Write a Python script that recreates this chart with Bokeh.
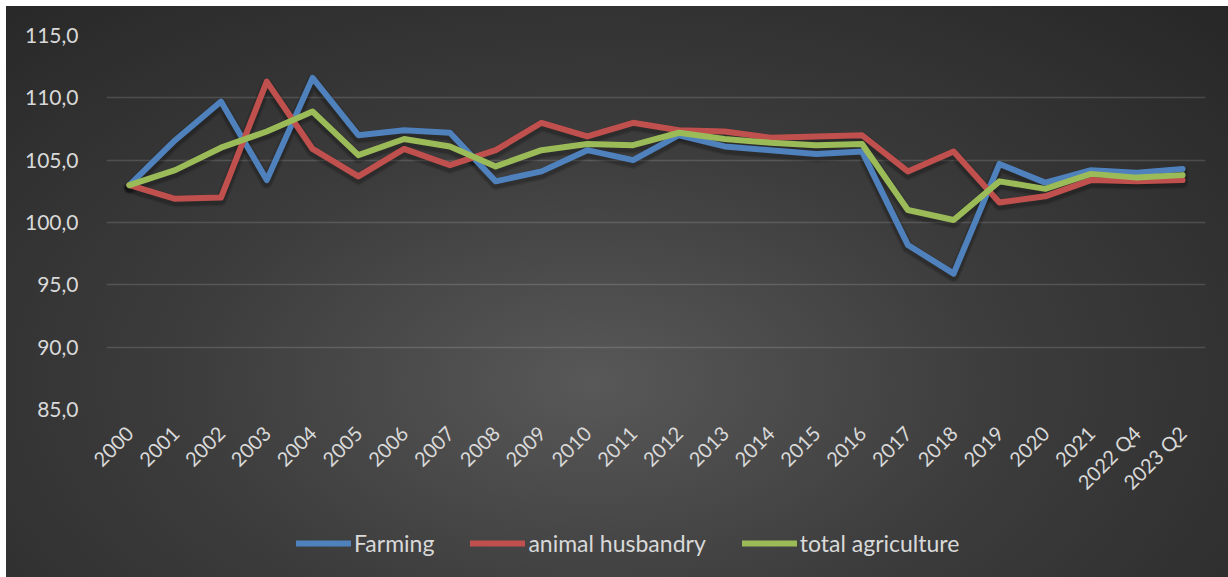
from math import pi

from bokeh.embed import file_html
from bokeh.layouts import column
from bokeh.models import FactorRange, FixedTicker, Legend, LegendItem, Range1d
from bokeh.plotting import figure
from bokeh.resources import INLINE

# Year-on-year production indices (previous year = 100)
periods = ["2000", "2001", "2002", "2003", "2004", "2005", "2006", "2007",
           "2008", "2009", "2010", "2011", "2012", "2013", "2014", "2015",
           "2016", "2017", "2018", "2019", "2020", "2021", "2022 Q4", "2023 Q2"]

farming = [103.0, 106.6, 109.7, 103.4, 111.6, 107.0, 107.4, 107.2,
           103.3, 104.1, 105.8, 105.0, 107.0, 106.1, 105.8, 105.5,
           105.7, 98.2, 95.9, 104.7, 103.2, 104.2, 104.0, 104.3]

animal_husbandry = [103.0, 101.9, 102.0, 111.3, 105.9, 103.7, 105.9, 104.6,
                    105.8, 108.0, 106.9, 108.0, 107.4, 107.3, 106.8, 106.9,
                    107.0, 104.1, 105.7, 101.6, 102.1, 103.4, 103.3, 103.4]

total_agriculture = [103.0, 104.2, 106.0, 107.3, 108.9, 105.4, 106.7, 106.1,
                     104.5, 105.8, 106.3, 106.2, 107.2, 106.7, 106.4, 106.2,
                     106.3, 101.0, 100.2, 103.3, 102.7, 103.9, 103.6, 103.8]

series_names = ["Farming", "animal husbandry", "total agriculture"]
series_values = [farming, animal_husbandry, total_agriculture]
series_colors = ["#4F81BD", "#C0504D", "#9BBB59"]

y_ticks = [85, 90, 95, 100, 105, 110, 115]
y_tick_labels = ["85,0", "90,0", "95,0", "100,0", "105,0", "110,0", "115,0"]

FONT = "Lato"
TEXT_COLOR = "#D9D9D9"
LINE_STYLE = dict(line_width=6, line_join="round", line_cap="round")

# ---- main chart -----------------------------------------------------------
p = figure(
    width=1222, height=523,
    x_range=FactorRange(factors=periods, range_padding=0),
    y_range=Range1d(85, 115),
    output_backend="svg", toolbar_location=None,
    min_border_left=100, min_border_right=23,
    min_border_top=29, min_border_bottom=120,
)
p.background_fill_color = None
p.border_fill_color = None
p.outline_line_color = None

# soft drop shadow: same data on a range shifted slightly upwards
p.extra_y_ranges = {"shadow": Range1d(85 + 0.22, 115 + 0.22)}
for vals in series_values:
    for w, a in [(12, 0.10), (9, 0.16)]:
        p.line(periods, vals, y_range_name="shadow", line_color="black",
               line_width=w, line_alpha=a, line_join="round", line_cap="round")

for vals, col in zip(series_values, series_colors):
    p.line(periods, vals, line_color=col, **LINE_STYLE)

p.yaxis.ticker = FixedTicker(ticks=y_ticks)
p.yaxis.major_label_overrides = {t: s for t, s in zip(y_ticks, y_tick_labels)}
p.yaxis.axis_line_color = None
p.yaxis.major_tick_line_color = None
p.yaxis.minor_tick_line_color = None
p.yaxis.major_label_text_font = FONT
p.yaxis.major_label_text_font_size = "21px"
p.yaxis.major_label_text_color = TEXT_COLOR
p.yaxis.major_label_standoff = 22

p.xaxis.axis_line_color = None
p.xaxis.major_tick_line_color = None
p.xaxis.minor_tick_line_color = None
p.xaxis.major_label_orientation = pi / 4
p.xaxis.major_label_text_font = FONT
p.xaxis.major_label_text_font_size = "20px"
p.xaxis.major_label_text_color = TEXT_COLOR
p.xaxis.major_label_standoff = 14

p.xgrid.grid_line_color = None
p.ygrid.grid_line_color = "white"
p.ygrid.grid_line_alpha = 0.14
p.ygrid.grid_line_width = 1.5

# ---- legend strip (its frame is aligned with the chart frame) -------------
lf = figure(
    width=1222, height=48,
    x_range=Range1d(0, 1), y_range=Range1d(0, 1),
    x_axis_type=None, y_axis_type=None,
    output_backend="svg", toolbar_location=None,
    min_border=0,
)
lf.background_fill_color = None
lf.border_fill_color = None
lf.outline_line_color = None
lf.xgrid.visible = False
lf.ygrid.visible = False

items = []
for name, col in zip(series_names, series_colors):
    # legend-only renderer: a single undefined point, nothing drawn in the frame
    r = lf.line([float("nan")], [float("nan")], line_color=col, **LINE_STYLE)
    items.append(LegendItem(label=name, renderers=[r]))

legend = Legend(
    items=items,
    orientation="horizontal",
    location=(190, 20),
    glyph_width=55, glyph_height=24,
    label_standoff=3, spacing=36,
    padding=0, margin=0,
    background_fill_alpha=0, border_line_color=None,
    label_text_font=FONT, label_text_font_size="23px",
    label_text_color=TEXT_COLOR,
)
lf.add_layout(legend, "center")

layout = column(p, lf, spacing=0)
layout.margin = (6, 0, 0, 6)
layout.styles = {
    "background-image": "radial-gradient(ellipse 75% 95% at 48% 66%, "
                        "#585858 0%, #3c3c3c 45%, #262626 100%)",
}

open("out.html", "w").write(file_html(layout, INLINE))
